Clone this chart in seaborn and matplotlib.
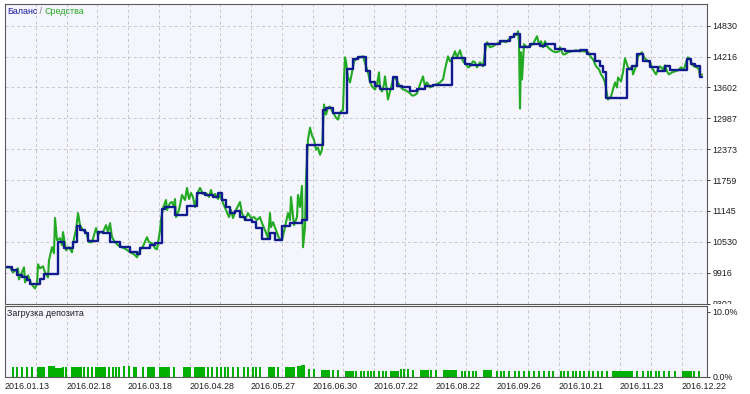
import matplotlib
matplotlib.use("Agg")
import matplotlib.pyplot as plt
import seaborn as sns
import pandas as pd
from matplotlib.offsetbox import TextArea, HPacker, AnchoredOffsetbox
from matplotlib.transforms import Bbox, TransformedBbox

# ---------------- data ----------------
# time axis in "bar" units
bal_t = [5, 12, 17, 22, 27, 30, 40, 44, 58, 64, 73, 77, 80, 85, 88, 98, 103, 110, 120, 130,
         137, 140, 150, 155, 162, 165, 175, 187, 197, 205, 213, 218, 222, 226, 230, 235, 240,
         245, 252, 256, 262, 270, 275, 282, 290, 302, 307, 323, 326, 333, 347, 353, 358, 366,
         370, 375, 380, 393, 397, 402, 410, 417, 425, 433, 452, 465, 470, 485, 500, 510, 514,
         520, 530, 540, 545, 555, 565, 580, 587, 595, 600, 603, 606, 627, 632, 637, 643, 650,
         658, 665, 670, 687, 691, 695, 700, 702]
balance = [10022, 9962, 9862, 9822, 9762, 9682, 9782, 9882, 10522, 10402, 10522, 10842, 10762,
           10702, 10542, 10722, 10702, 10522, 10422, 10322, 10282, 10402, 10462, 10502, 11182,
           11222, 11062, 11242, 11502, 11462, 11422, 11502, 11362, 11222, 11102, 11142, 11022,
           10962, 10922, 10802, 10582, 10702, 10562, 10842, 10902, 10962, 12462, 13162, 13202,
           13102, 13962, 14162, 14202, 13922, 13702, 13622, 13562, 13802, 13622, 13602, 13522,
           13562, 13622, 13642, 14182, 14062, 14042, 14462, 14522, 14602, 14662, 14402, 14462,
           14422, 14462, 14362, 14322, 14342, 14262, 14122, 14022, 13902, 13402, 13962, 14022,
           14262, 14122, 14002, 13922, 14022, 13942, 14162, 14062, 14022, 13802, 13802]

eq_t = [5, 10, 13, 18, 19, 24, 25, 28, 31, 35, 37, 38, 40, 43, 45, 48, 49, 52, 54, 55, 57, 60,
        62, 63, 66, 69, 72, 74, 76, 78, 80, 83, 86, 89, 92, 96, 98, 100, 103, 106, 108, 110,
        112, 115, 118, 122, 126, 130, 134, 137, 140, 143, 147, 149, 152, 155, 157, 160, 161,
        163, 166, 167, 170, 172, 174, 175, 176, 179, 182, 185, 187, 189, 191, 193, 195, 198,
        200, 203, 206, 209, 211, 213, 215, 218, 220, 223, 226, 229, 231, 233, 236, 240, 242,
        245, 248, 251, 254, 257, 260, 262, 265, 268, 270, 271, 273, 276, 279, 282, 285, 288,
        290, 291, 294, 297, 298, 300, 302, 303, 305, 306, 308, 310, 312, 314, 316, 318, 320,
        322, 323, 324, 326, 328, 330, 333, 336, 338, 340, 343, 344, 345, 346, 348, 350, 352,
        354, 357, 360, 363, 366, 368, 370, 372, 375, 377, 379, 380, 382, 384, 385, 388, 391,
        393, 395, 398, 400, 403, 406, 409, 412, 414, 417, 420, 423, 425, 427, 430, 433, 436,
        440, 443, 445, 448, 450, 452, 455, 457, 460, 463, 466, 468, 470, 473, 475, 477, 480,
        483, 485, 487, 490, 493, 496, 500, 503, 506, 509, 512, 514, 517, 518, 519, 520, 521,
        522, 524, 527, 529, 533, 537, 539, 541, 543, 545, 547, 550, 553, 556, 559, 560, 563,
        565, 568, 572, 576, 580, 584, 588, 591, 593, 596, 599, 601, 603, 605, 607, 608, 611,
        613, 615, 617, 618, 621, 623, 625, 628, 630, 632, 633, 636, 638, 642, 644, 646, 648,
        650, 652, 654, 656, 658, 660, 663, 665, 667, 669, 672, 675, 678, 681, 684, 686, 688,
        690, 692, 694, 697, 699, 700, 702]
equity = [10022, 10022, 9922, 10002, 9782, 10022, 9722, 9862, 9702, 9602, 9682, 10082, 10002,
          10042, 9922, 9822, 10162, 10422, 10302, 11002, 10562, 10602, 10462, 10722, 10362,
          10422, 10322, 10602, 10762, 11102, 10862, 10762, 10722, 10522, 10522, 10802, 10662,
          10722, 10722, 10862, 10722, 10902, 10622, 10522, 10462, 10422, 10382, 10322, 10282,
          10222, 10362, 10442, 10622, 10522, 10502, 10402, 10382, 10762, 10962, 11202, 11362,
          11162, 11302, 11322, 11222, 11382, 11022, 11162, 11462, 11362, 11602, 11382, 11502,
          11422, 11222, 11522, 11602, 11482, 11502, 11422, 11562, 11422, 11482, 11382, 11462,
          11302, 11162, 11022, 11162, 11002, 11162, 11322, 11102, 10962, 11102, 11002, 11022,
          10962, 11022, 10902, 10762, 10602, 11102, 10822, 10922, 10762, 10602, 10562, 10822,
          11102, 10962, 11422, 10862, 11022, 11462, 11222, 11642, 10422, 10822, 11762, 12562,
          12802, 12642, 12562, 12362, 12402, 12262, 12362, 12822, 13262, 13062, 13202, 13222,
          13102, 13002, 12962, 13102, 13162, 13762, 14202, 14122, 13802, 13702, 13902, 14122,
          14182, 14202, 14222, 14022, 13902, 13722, 13622, 13562, 13662, 13902, 13602, 13522,
          13662, 13822, 13362, 13602, 13762, 13802, 13702, 13622, 13562, 13542, 13502, 13442,
          13442, 13482, 13662, 13822, 13622, 13702, 13602, 13642, 13662, 13702, 13762, 13962,
          14222, 14122, 14162, 14322, 14202, 14342, 14122, 14062, 14002, 14022, 14122, 14102,
          14002, 14102, 14022, 14302, 14502, 14402, 14422, 14462, 14502, 14522, 14502, 14562,
          14602, 14622, 14662, 14722, 14502, 13182, 14302, 13762, 14462, 14402, 14422, 14462,
          14622, 14462, 14522, 14402, 14522, 14422, 14362, 14322, 14302, 14322, 14402, 14262,
          14262, 14302, 14322, 14342, 14322, 14322, 14302, 14202, 14162, 14022, 13962, 13862,
          13802, 13702, 13462, 13362, 13422, 13562, 13702, 13602, 13802, 13722, 13902, 14182,
          14002, 13962, 14022, 13862, 14022, 14222, 14302, 14202, 14162, 14122, 14102, 14002,
          13922, 13862, 13962, 14022, 13962, 14042, 13922, 13862, 13902, 13922, 13942, 14002,
          13962, 14102, 14202, 14162, 14062, 14022, 14002, 13962, 13822, 13862]

# deposit load bars: start, end (bar units) and load in %
load_start = [12, 16, 21, 26, 31, 37, 48, 55, 62, 65, 71, 80, 83, 87, 91, 95, 104, 108, 112,
              115, 118, 123, 128, 133, 135, 142, 147, 159, 168, 173, 183, 194, 203, 207, 211,
              216, 220, 224, 227, 232, 237, 243, 247, 252, 255, 259, 268, 277, 285, 297, 301,
              308, 313, 321, 332, 337, 345, 355, 360, 363, 367, 370, 373, 378, 382, 385, 390,
              400, 403, 407, 412, 420, 430, 435, 443, 461, 464, 468, 472, 475, 483, 496, 500,
              503, 508, 514, 518, 523, 528, 533, 538, 543, 548, 552, 560, 563, 567, 572, 575,
              579, 583, 588, 592, 597, 601, 606, 612, 636, 642, 647, 650, 655, 658, 663, 668,
              674, 682, 693, 698]
load_end = [12, 16, 21, 26, 31, 43, 53, 60, 62, 65, 78, 80, 83, 87, 91, 102, 104, 108, 112,
            115, 118, 123, 128, 133, 135, 142, 153, 166, 168, 173, 189, 201, 203, 207, 211,
            216, 220, 224, 227, 232, 237, 243, 247, 252, 255, 259, 273, 277, 293, 300, 303,
            308, 313, 328, 332, 337, 352, 355, 360, 363, 367, 370, 373, 378, 382, 385, 397,
            400, 403, 407, 412, 427, 430, 435, 455, 461, 464, 468, 472, 475, 490, 496, 500,
            503, 508, 514, 518, 523, 528, 533, 538, 543, 548, 552, 560, 563, 567, 572, 575,
            579, 583, 588, 592, 597, 601, 606, 631, 636, 642, 647, 650, 655, 658, 663, 668,
            674, 690, 693, 698]
load_pct = [1.55, 1.55, 1.55, 1.55, 1.55, 1.6, 1.65, 1.45, 1.5, 1.5, 1.55, 1.55, 1.55, 1.55,
            1.55, 1.55, 1.55, 1.55, 1.55, 1.55, 1.55, 1.75, 1.75, 1.5, 1.5, 1.5, 1.55, 1.55,
            1.5, 1.5, 1.55, 1.55, 1.5, 1.5, 1.5, 1.5, 1.5, 1.5, 1.5, 1.5, 1.5, 1.5, 1.5, 1.5,
            1.5, 1.5, 1.55, 1.5, 1.6, 1.7, 1.8, 1.2, 1.2, 1.0, 1.0, 1.0, 0.9, 0.9, 0.9, 0.9,
            0.9, 0.9, 0.9, 0.9, 0.9, 0.9, 0.95, 1.2, 1.2, 1.2, 1.0, 1.0, 1.1, 1.1, 1.0, 0.9,
            0.9, 0.9, 0.9, 0.9, 1.0, 0.9, 0.9, 0.9, 0.9, 0.9, 0.9, 0.9, 0.9, 0.9, 0.9, 0.9,
            0.9, 0.9, 0.9, 0.9, 0.9, 0.9, 0.9, 0.9, 0.9, 0.9, 0.9, 0.9, 0.9, 0.9, 0.95, 0.9,
            0.9, 0.9, 0.9, 0.9, 0.9, 0.9, 0.9, 0.9, 0.95, 0.9, 0.9]

y_ticks = [9302, 9916, 10530, 11145, 11759, 12373, 12987, 13602, 14216, 14830]
date_labels = ["2016.01.13", "2016.02.18", "2016.03.18", "2016.04.28", "2016.05.27",
               "2016.06.30", "2016.07.22", "2016.08.22", "2016.09.26", "2016.10.21",
               "2016.11.23", "2016.12.22"]

# ---------------- style ----------------
sns.set_style("white")
plt.rcParams['font.family'] = ['Liberation Sans', 'DejaVu Sans']
FS = 6.4
BG = '#F5F5FD'
GRID = '#C6C6CC'
SPINE = '#5A5A5A'
BLUE = '#101C8E'
GREEN = '#22AA22'
BARC = '#00B000'

W, H = 750, 394
fig = plt.figure(figsize=(7.5, 3.94), dpi=100, facecolor='white')

def fx(px):
    return px / W

def fy(py):
    return 1 - py / H

ax = fig.add_axes([fx(5), fy(303.5), fx(707) - fx(5), fy(3.5) - fy(303.5)])
ax2 = fig.add_axes([fx(5), fy(377), fx(707) - fx(5), fy(306) - fy(377)], sharex=ax)

for a in (ax, ax2):
    a.set_facecolor(BG)
    for s in a.spines.values():
        s.set_color(SPINE)
        s.set_linewidth(0.8)

df_eq = pd.DataFrame({"t": eq_t, "v": equity})
df_bal = pd.DataFrame({"t": bal_t, "v": balance})
sns.lineplot(data=df_eq, x="t", y="v", ax=ax, color=GREEN, lw=1.5, estimator=None, sort=False)
sns.lineplot(data=df_bal, x="t", y="v", ax=ax, color=BLUE, lw=1.7, estimator=None, sort=False,
             drawstyle='steps-post')

x0, x1 = 5, 707
grid_step = 30.75
grid_pos = [x0 + grid_step * k for k in range(23)]
ax.set_xlim(x0, x1)
ax.set_ylim(9302, 15273)

ax.set_xticks(grid_pos)
ax.yaxis.tick_right()
ax.set_yticks(y_ticks)
ax.set_yticklabels([str(v) for v in y_ticks])
ax.tick_params(axis='y', which='both', length=2, width=0.6, pad=2, labelsize=FS,
               colors='#1E1E1E')
ax.tick_params(axis='x', length=0, labelbottom=False)
ax.grid(True, color=GRID, linestyle=(0, (3, 3)), linewidth=0.7)
ax.set_xlabel("")
ax.set_ylabel("")

# clip "9302" label to main area
clip = TransformedBbox(Bbox([[fx(700), fy(304)], [1.0, 1.0]]), fig.transFigure)
for lab in ax.get_yticklabels():
    lab.set_clip_box(clip)
    lab.set_clip_on(True)

# title
parts = [TextArea("Баланс", textprops=dict(color='#1A1A9A', size=FS)),
         TextArea(" / ", textprops=dict(color='#707070', size=FS)),
         TextArea("Средства", textprops=dict(color='#22AA22', size=FS))]
box = HPacker(children=parts, align="baseline", pad=0, sep=0)
anch = AnchoredOffsetbox(loc='upper left', child=box, pad=0, borderpad=0, frameon=False,
                         bbox_to_anchor=(fx(7), fy(7.5)), bbox_transform=fig.transFigure)
ax.add_artist(anch)

# lower panel: deposit load
widths = [e - s + 1.6 for s, e in zip(load_start, load_end)]
ax2.bar(load_start, load_pct, width=widths, align='edge', color=BARC, linewidth=0)
ax2.set_ylim(0, 10.84)
ax2.yaxis.tick_right()
ax2.set_yticks([0, 10])
ax2.set_yticklabels(["0.0%", "10.0%"])
ax2.tick_params(axis='y', length=2, width=0.6, pad=2, labelsize=FS, colors='#1E1E1E')
ax2.set_xticks(grid_pos)
ax2.set_xticklabels([date_labels[k // 2] if k % 2 == 0 else "" for k in range(23)],
                    ha='left')
ax2.tick_params(axis='x', length=2, width=0.6, pad=1.5, labelsize=FS, colors='#1E1E1E')
ax2.grid(True, axis='x', color=GRID, linestyle=(0, (3, 3)), linewidth=0.7)
ax2.grid(False, axis='y')
ax2.set_xlim(x0, x1)
ax2.text(fx(7), fy(314), "Загрузка депозита", transform=fig.transFigure, fontsize=FS,
         color='#1E1E1E', va='center', ha='left')

fig.savefig("out.png", dpi=100, facecolor='white')
